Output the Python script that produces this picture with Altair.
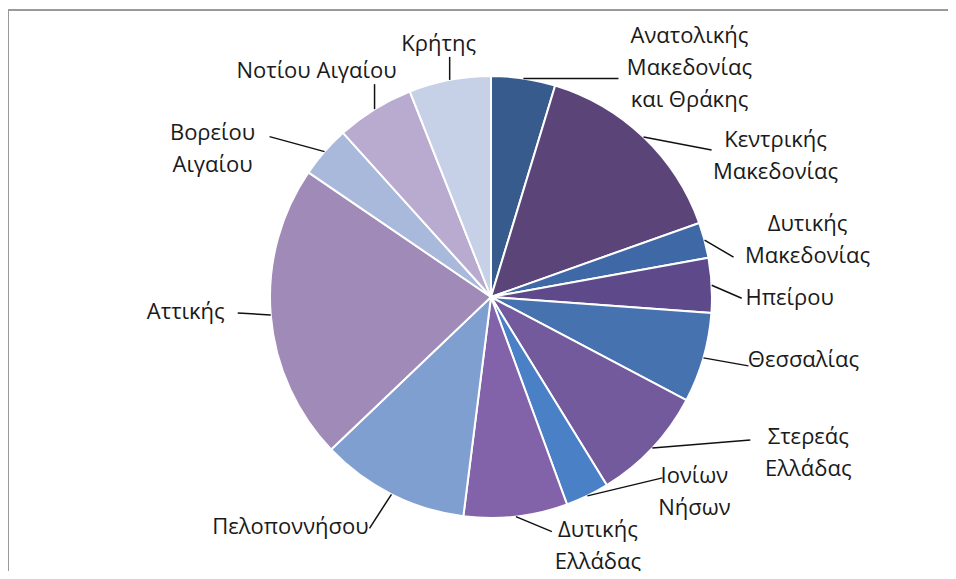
import math
import altair as alt
import pandas as pd

# ---- data ----
regions = [
    "Ανατολικής\nΜακεδονίας\nκαι Θράκης",
    "Κεντρικής\nΜακεδονίας",
    "Δυτικής\nΜακεδονίας",
    "Ηπείρου",
    "Θεσσαλίας",
    "Στερεάς\nΕλλάδας",
    "Ιονίων\nΝήσων",
    "Δυτικής\nΕλλάδας",
    "Πελοποννήσου",
    "Αττικής",
    "Βορείου\nΑιγαίου",
    "Νοτίου Αιγαίου",
    "Κρήτης",
]
values = [4.7, 14.9, 2.6, 4.0, 6.6, 8.5, 3.2, 7.6, 10.9, 21.7, 3.8, 5.7, 6.0]

# ---- styling / layout ----
colors = ["#365b8c", "#5b4478", "#3f69a6", "#5e4a8b", "#4672b0", "#735a9d",
          "#4a81c6", "#8262a8", "#7f9fd0", "#9f8ab8", "#a8b9db", "#b9abcf", "#c6d0e6"]
# label-block centre offset and leader-line end offset, relative to the slice's mid-angle point on the rim
text_off = [(166, -10), (132, 19), (103, 0), (78, 13), (100, 2), (156, 5), (107, -4),
            (82, 29), (-101, 33), (-85, -3), (-112, -3), (-58, -38), (-11, -36)]
line_off = [(95, 0), (68, 13), (29, 17), (30, 13), (45, 8), (98, -8), (75, -18),
            (36, 15), (-22, 34), (-33, -2), (-55, -15), (0, -25), (0, -23)]

W, H = 940, 563
CX, CY, R = 483, 289, 221
LH = 32

total = sum(values)
rows = []
cum = 0.0
for i, (name, v) in enumerate(zip(regions, values)):
    mid = (cum + v / 2) / total * 2 * math.pi
    cum += v
    ax = CX + R * math.sin(mid)
    ay = CY - R * math.cos(mid)
    nlines = name.count("\n") + 1
    rows.append(dict(
        idx=i, region=name, value=v,
        ax=ax, ay=ay,
        ex=ax + line_off[i][0], ey=ay + line_off[i][1],
        tx=ax + text_off[i][0], ty=ay + text_off[i][1] - (nlines - 1) * LH / 2,
    ))
df = pd.DataFrame(rows)

xs = alt.Scale(domain=[0, W], range=[0, W], nice=False, zero=False)
ys = alt.Scale(domain=[0, H], range=[0, H], nice=False, zero=False)

pie = alt.Chart(df).mark_arc(outerRadius=R, stroke="white", strokeWidth=2).encode(
    theta=alt.Theta("value:Q", stack=True),
    color=alt.Color("region:N", scale=alt.Scale(domain=regions, range=colors), legend=None),
    order=alt.Order("idx:Q"),
    x=alt.value(CX),
    y=alt.value(CY),
)

leaders = alt.Chart(df).mark_rule(color="#111111", strokeWidth=1.5).encode(
    x=alt.X("ax:Q", scale=xs, axis=None),
    y=alt.Y("ay:Q", scale=ys, axis=None),
    x2="ex:Q",
    y2="ey:Q",
)

labels = alt.Chart(df).mark_text(
    font="Open Sans", fontSize=22, color="#1a1a1a", lineBreak="\n",
    lineHeight=LH, align="center", baseline="middle",
).encode(
    x=alt.X("tx:Q", scale=xs, axis=None),
    y=alt.Y("ty:Q", scale=ys, axis=None),
    text="region:N",
)

frame_top = alt.Chart(df).mark_rule(color="#9a9a9a", strokeWidth=2).encode(
    x=alt.value(0), x2=alt.value(W), y=alt.value(2)
)
frame_left = alt.Chart(df).mark_rule(color="#9a9a9a", strokeWidth=2).encode(
    x=alt.value(0), y=alt.value(2), y2=alt.value(H)
)

chart = alt.layer(frame_top, frame_left, pie, leaders, labels).properties(
    width=W, height=H, padding=0, autosize=alt.AutoSizeParams(type="none"),
    background="white",
).configure_view(stroke=None)

chart.save("out.html", embed_options={"renderer": "svg", "actions": False})
